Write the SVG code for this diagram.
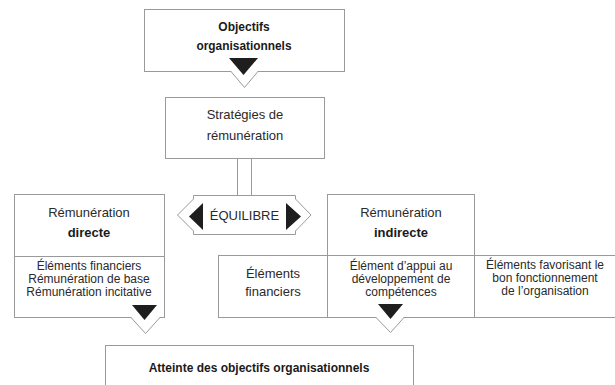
<svg xmlns="http://www.w3.org/2000/svg" width="615" height="385" viewBox="0 0 615 385">
<style>
.box{fill:#fff;stroke:#9a9a9a;stroke-width:1}
.ln{fill:none;stroke:#9a9a9a;stroke-width:1}
.t{font-family:"Liberation Sans",Arial,sans-serif;font-size:13px;fill:#2a2a2a;text-anchor:middle}
.s{font-family:"Liberation Sans",Arial,sans-serif;font-size:12px;fill:#2a2a2a;text-anchor:middle}
.b{font-family:"Liberation Sans",Arial,sans-serif;font-size:12px;font-weight:bold;fill:#1a1a1a;text-anchor:middle}
.blk{fill:#1e1e1e;stroke:none}
.wt{fill:#fff;stroke:none}
</style>
<rect width="615" height="385" fill="#fff"/>
<g id="connectors">
  <line class="ln" x1="237.5" y1="158" x2="237.5" y2="195"/>
  <line class="ln" x1="251.5" y1="158" x2="251.5" y2="195"/>
</g>
<g id="n-objectifs">
  <rect class="box" x="144.5" y="9.5" width="200" height="62"/>
  <text class="b" x="244" y="31">Objectifs</text>
  <text class="b" x="244" y="50" textLength="95" lengthAdjust="spacingAndGlyphs">organisationnels</text>
</g>
<g id="n-strategies">
  <rect class="box" x="165.5" y="97.5" width="159" height="61"/>
  <text class="t" x="245" y="118.5">Stratégies de</text>
  <text class="t" x="245" y="139.5">rémunération</text>
</g>
<g id="n-equilibre">
  <polygon class="box" points="193.5,195.5 295.5,195.5 295.5,199 311,215 295.5,231 295.5,234.5 193.5,234.5 193.5,231 177.5,215 193.5,199"/>
  <polygon class="blk" points="203,203 203,230 189,216.5"/>
  <polygon class="blk" points="286,203 286,230 301,216.5"/>
  <text class="t" x="244.5" y="219.5">ÉQUILIBRE</text>
</g>
<g id="n-directe">
  <rect class="box" x="14.5" y="194.5" width="150" height="123"/>
  <line class="ln" x1="14.5" y1="256.5" x2="164.5" y2="256.5"/>
  <text class="t" x="89" y="216.5">Rémunération</text>
  <text class="b" x="89" y="237" style="font-size:13px">directe</text>
  <text class="s" x="89" y="270">Éléments financiers</text>
  <text class="s" x="89" y="283">Rémunération de base</text>
  <text class="s" x="89" y="296">Rémunération incitative</text>
</g>
<g id="n-indirecte">
  <rect class="box" x="327.5" y="194.5" width="147" height="61"/>
  <text class="t" x="401" y="216.5">Rémunération</text>
  <text class="b" x="401" y="237" style="font-size:13px">indirecte</text>
</g>
<g id="n-financiers">
  <rect class="box" x="218.5" y="255.5" width="109" height="62"/>
  <text class="t" x="273" y="277.5">Éléments</text>
  <text class="t" x="273" y="295.5">financiers</text>
</g>
<g id="n-appui">
  <rect class="box" x="327.5" y="255.5" width="147" height="62"/>
  <text class="s" x="401" y="270">Élément d’appui au</text>
  <text class="s" x="401" y="283">développement de</text>
  <text class="s" x="401" y="296">compétences</text>
</g>
<g id="n-favorisant">
  <rect class="box" x="474.5" y="255.5" width="145" height="62"/>
  <text class="s" x="545" y="269">Éléments favorisant le</text>
  <text class="s" x="545" y="282">bon fonctionnement</text>
  <text class="s" x="545" y="295">de l’organisation</text>
</g>
<g id="n-atteinte">
  <rect class="box" x="105.5" y="345.5" width="308" height="50"/>
  <text class="b" x="259" y="372">Atteinte des objectifs organisationnels</text>
</g>
<g id="arrows">
  <polygon class="wt" points="231,71 244,87 258,71"/>
  <polyline class="ln" points="231,71.5 244.5,87.5 258,71.5"/>
  <polygon class="blk" points="229,58 258,58 243.5,75"/>
  <polygon class="wt" points="131,317 145,333 160,317"/>
  <polyline class="ln" points="131,317.5 145.5,333.5 160,317.5"/>
  <polygon class="blk" points="132,305 157,305 144.5,320"/>
  <polygon class="wt" points="376,317 390,332 404,317"/>
  <polyline class="ln" points="376,317.5 390.5,332.5 404,317.5"/>
  <polygon class="blk" points="378,304 403,304 390.5,319"/>
</g>
</svg>
